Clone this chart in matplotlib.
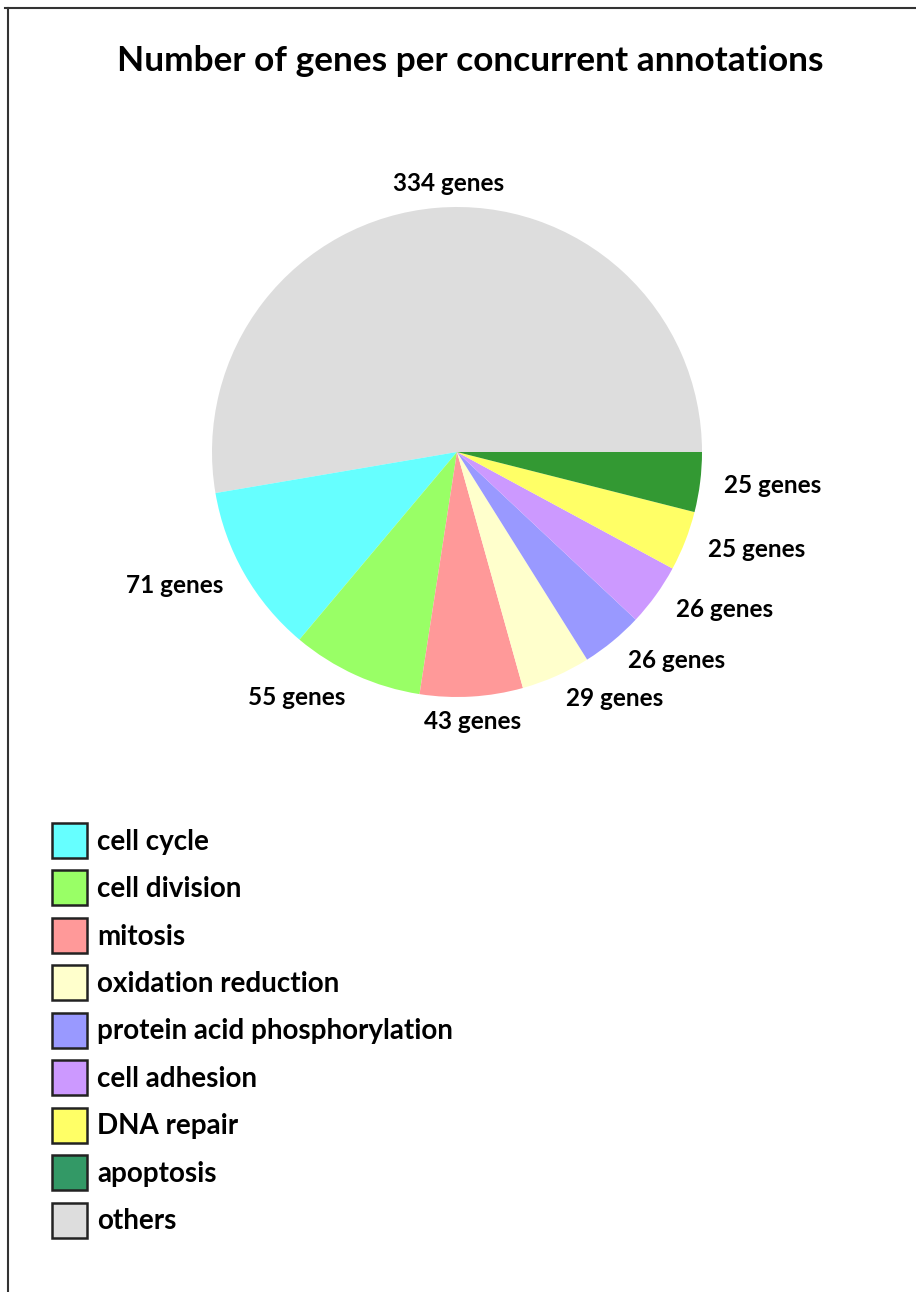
import matplotlib
matplotlib.use("Agg")
import matplotlib.pyplot as plt
from matplotlib.patches import Patch
from matplotlib.lines import Line2D
import numpy as np

plt.rcParams['font.family'] = ['Lato', 'DejaVu Sans']

title = "Number of genes per concurrent annotations"
categories = ["others", "cell cycle", "cell division", "mitosis", "oxidation reduction",
              "protein acid phosphorylation", "cell adhesion", "DNA repair", "apoptosis"]
genes = [334, 71, 55, 43, 29, 26, 26, 25, 25]
slice_colors = ["#DDDDDD", "#66FFFF", "#99FF66", "#FF9999", "#FFFFCC",
                "#9999FF", "#CC99FF", "#FFFF66", "#339933"]
legend_order = ["cell cycle", "cell division", "mitosis", "oxidation reduction",
                "protein acid phosphorylation", "cell adhesion", "DNA repair", "apoptosis", "others"]
legend_colors = ["#66FFFF", "#99FF66", "#FF9999", "#FFFFCC", "#9999FF",
                 "#CC99FF", "#FFFF66", "#339966", "#DDDDDD"]

W, H = 916, 1292
fig = plt.figure(figsize=(W / 100, H / 100), dpi=100)

# pie axes: center (457,452), radius 245 px
cx, cy, r = 457, 452, 245
ax = fig.add_axes([(cx - r) / W, (H - cy - r) / H, 2 * r / W, 2 * r / H])
labels = [f"{g} genes" for g in genes]
wedges, texts = ax.pie(genes, colors=slice_colors, startangle=0, counterclock=True,
                       labels=labels, labeldistance=1.1,
                       textprops=dict(fontsize=17.5, fontweight='bold', color='black'))
for w, t in zip(wedges, texts):
    mid = np.deg2rad((w.theta1 + w.theta2) / 2)
    if abs(np.cos(mid)) < 0.1:
        t.set_horizontalalignment('center')
        if np.sin(mid) > 0:
            x, y = t.get_position()
            t.set_position((x + 0.06, y))
ax.set_xlim(-1, 1)
ax.set_ylim(-1, 1)
ax.axis('off')

fig.text(470 / W, 1 - 61 / H, title, ha='center', va='center',
         fontsize=25.4, fontweight='bold')

handles = [Patch(facecolor=c, edgecolor='#222222', linewidth=1.8) for c in legend_colors]
fs = 20
leg = fig.legend(handles, legend_order, loc='upper left',
                 bbox_to_anchor=(52 / W, 1 - 823 / H), frameon=False,
                 prop=dict(size=fs, weight='bold'),
                 handlelength=1.26, handleheight=1.56, handletextpad=0.36,
                 labelspacing=0.45, borderaxespad=0, borderpad=0)

# figure border (top and left)
fig.add_artist(Line2D([5 / W, 1], [1 - 8 / H, 1 - 8 / H], color='#333333', lw=1.5))
fig.add_artist(Line2D([8 / W, 8 / W], [0, 1 - 8 / H], color='#333333', lw=1.5))

fig.savefig("out.png", dpi=100)
